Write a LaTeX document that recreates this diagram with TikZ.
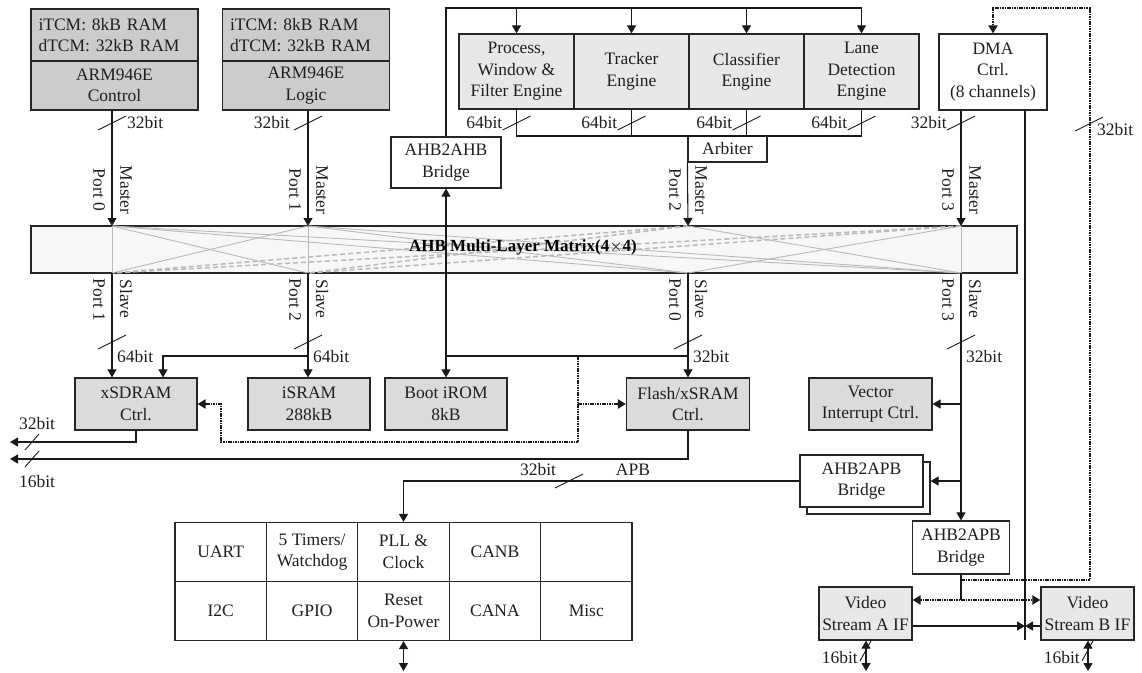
\documentclass[tikz,border=0pt]{standalone}
\usepackage{fontspec}
\setmainfont{Liberation Serif}
\usepackage{tikz}
\usetikzlibrary{arrows.meta,shadows}

\tikzset{
  vtick/.pic={\draw[bustick] (-14,7) -- (14,-7);},
  htick/.pic={\draw[bustick] (-7,8) -- (7,-8);},
  stick/.pic={\draw[bustick] (-6,11) -- (6,-11);},
}

\begin{document}
\begin{tikzpicture}[x=1pt, y=-1pt,
    txt/.style={font=\fontsize{17.5}{21.5}\selectfont, text=black!88},
    cpu/.style={txt, rectangle, draw=black!85, fill=gray!40, line width=1.2pt,
                inner sep=0pt, align=center, minimum width=167pt},
    eng/.style={txt, rectangle, draw=black!85, fill=gray!18, line width=1.2pt,
                inner sep=0pt, align=center, minimum width=115pt, minimum height=75pt},
    mem/.style={txt, rectangle, draw=black!85, fill=gray!28, line width=1.2pt,
                inner sep=0pt, align=center, minimum width=122pt, minimum height=52pt},
    wbox/.style={txt, rectangle, draw=black!85, fill=white, line width=1.2pt,
                inner sep=0pt, align=center},
    cell/.style={txt, rectangle, draw=black!85, line width=1.2pt, inner sep=0pt,
                align=center, minimum width=91.4pt, minimum height=59pt},
    port/.style={txt, rotate=-90, inner sep=1pt},
    bw/.style={txt, inner sep=1pt},
    mtxbox/.style={draw=black!85, fill=gray!6, line width=1.2pt, inner sep=0pt,
                minimum width=986pt, minimum height=47pt},
    xline/.style={gray!55, line width=0.9pt},
    xdash/.style={gray!55, line width=1.5pt, dash pattern=on 5pt off 3pt},
    wire/.style={line width=1.1pt, black!90},
    arr/.style={wire, -{Triangle[length=8pt, width=9pt]}},
    dblarr/.style={wire, {Triangle[length=8pt, width=9pt]}-{Triangle[length=8pt, width=9pt]}},
    dotwire/.style={line width=2.2pt, black!90, dash pattern=on 1.6pt off 0.8pt},
    dotarr/.style={dotwire, -{Triangle[length=8pt, width=9pt]}},
    dotdbl/.style={dotwire, {Triangle[length=8pt, width=9pt]}-{Triangle[length=8pt, width=9pt]}},
    bustick/.style={line width=0.9pt, black!90},
]
\useasboundingbox (0,0) rectangle (1142,672);

% --- CPUs ---
\node[cpu, align=left, text width=152pt, inner xsep=7.5pt, minimum height=52pt] (tcmA) at (114.5,35)
  {iTCM: 8kB RAM\\dTCM: 32kB RAM};
\node[cpu, minimum height=49pt] (armA) at (114.5,85.5) {ARM946E\\Control};
\node[cpu, align=left, text width=152pt, inner xsep=7.5pt, minimum height=52pt] (tcmB) at (306,35)
  {iTCM: 8kB RAM\\dTCM: 32kB RAM};
\node[cpu, minimum height=49pt] (armB) at (306,85.5) {ARM946E\\Logic};

% --- Engines ---
\node[eng] (pwf) at (516.5,71.5) {Process,\\Window \&\\Filter Engine};
\node[eng] (trk) at (631.5,71.5) {Tracker\\Engine};
\node[eng] (cls) at (746.5,71.5) {Classifier\\Engine};
\node[eng] (lane) at (861.5,71.5) {Lane\\Detection\\Engine};
\node[wbox, minimum width=79pt, minimum height=26pt] (arbiter) at (727.5,149) {Arbiter};
\node[wbox, minimum width=110pt, minimum height=51pt] (ahbbr) at (446,162.5) {AHB2AHB\\Bridge};
\node[wbox, minimum width=108pt, minimum height=76pt] (dma) at (993,72) {DMA\\Ctrl.\\(8 channels)};

% --- Matrix ---
\node[mtxbox] (matrix) at (524,249.5) {};
\coordinate (mp0) at (112,226);
\coordinate (mp1) at (308,226);
\coordinate (mp2) at (688,226);
\coordinate (mp3) at (961,226);
\coordinate (sp0) at (112,273);
\coordinate (sp1) at (308,273);
\coordinate (sp2) at (688,273);
\coordinate (sp3) at (961,273);
\foreach \m in {mp0,mp1}{\foreach \s in {sp0,sp1,sp2,sp3}{\draw[xline] (\m) -- (\s);}}
\foreach \m in {mp2,mp3}{\foreach \s in {sp0,sp1}{\draw[xdash] (\m) -- (\s);}}
\draw[xline] (mp2) -- (sp3);
\draw[xline] (mp3) -- (sp2);
\draw[xline] (mp3) -- (sp3);
\node[font=\fontsize{17}{21}\selectfont\bfseries, text=black] (mtxlabel) at (523,247)
  {AHB Multi-Layer Matrix(4$\times$4)};

% --- Slaves ---
\node[mem] (xsdram) at (136,404) {xSDRAM\\Ctrl.};
\node[mem] (isram) at (309,404) {iSRAM\\288kB};
\node[mem] (bootrom) at (446,404) {Boot iROM\\8kB};
\node[mem, minimum width=123pt] (flash) at (688,404) {Flash/xSRAM\\Ctrl.};
\node[mem, minimum width=123pt] (vic) at (870.5,404) {Vector\\Interrupt Ctrl.};
\node[wbox, minimum width=123pt, minimum height=52pt,
      copy shadow={shadow xshift=7pt, shadow yshift=-7pt, fill=white,
                   draw=black!85, line width=1.2pt}] (apbA) at (861.5,481) {AHB2APB\\Bridge};
\node[wbox, minimum width=97pt, minimum height=53pt] (apbB) at (961,547.5) {AHB2APB\\Bridge};
\node[mem, fill=gray!18, minimum width=93pt, minimum height=53pt] (videoA) at (865.5,613.5)
  {Video\\Stream A IF};
\node[mem, fill=gray!18, minimum width=93pt, minimum height=53pt] (videoB) at (1087.5,613.5)
  {Video\\Stream B IF};

% --- Peripherals ---
\node[cell] (uart) at (220.7,552) {UART};
\node[cell] (timers) at (312.1,552) {5 Timers/\\Watchdog};
\node[cell] (pll) at (403.5,552) {PLL \&\\Clock};
\node[cell] (canb) at (494.9,552) {CANB};
\node[cell] (spare) at (586.3,552) {};
\node[cell] (iic) at (220.7,611) {I2C};
\node[cell] (gpio) at (312.1,611) {GPIO};
\node[cell] (reset) at (403.5,611) {Reset\\On-Power};
\node[cell] (cana) at (494.9,611) {CANA};
\node[cell] (misc) at (586.3,611) {Misc};

% --- Masters to matrix ---
\draw[arr] (armA.south -| mp0) -- (mp0);
\draw[arr] (armB.south -| mp1) -- (mp1);
\draw[arr] (arbiter.south west) -- (mp2);
\draw[arr] (dma.south -| mp3) -- (mp3);
\pic at (112,123) {vtick};
\pic at (308,123) {vtick};
\pic at (961,123) {vtick};
\node[bw, anchor=west] (bwA) at (126,123) {32bit};
\node[bw, anchor=east] (bwB) at (291,123) {32bit};
\node[bw, anchor=east] (bwdma) at (948,123) {32bit};
\node[port] (pm0) at (99,190) {Port 0};
\node[port] (ma0) at (126,190) {Master};
\node[port] (pm1) at (295,190) {Port 1};
\node[port] (ma1) at (322,190) {Master};
\node[port] (pm2) at (675,190) {Port 2};
\node[port] (ma2) at (701,190) {Master};
\node[port] (pm3) at (948,190) {Port 3};
\node[port] (ma3) at (975,190) {Master};

% --- Engine buses ---
\coordinate (topbus) at (0,8);
\coordinate (engbus) at (0,136);
\draw[wire] (ahbbr.north) |- (lane.north |- topbus);
\foreach \e in {pwf,trk,cls,lane}{
  \draw[arr] (\e.north |- topbus) -- (\e.north);
  \pic at (\e.south |- 0,123) {vtick};
  \node[bw, anchor=east] at ([xshift=-13pt]\e.south |- 0,123) {64bit};
}
\draw[wire] (pwf.south) |- (lane.south |- engbus) -- (lane.south);
\draw[wire] (trk.south) -- (trk.south |- engbus);
\draw[wire] (cls.south) -- (cls.south |- engbus);

% --- Matrix to slaves ---
\coordinate (sbus1) at (308,356);
\coordinate (sbus2) at (688,356);
\draw[arr] (sp0) -- (sp0 |- xsdram.north);
\draw[arr] (sp1) -- (sp1 |- isram.north);
\draw[arr] (sbus1) -| ([xshift=27pt]xsdram.north);
\draw[arr] (sp2) -- (flash.north);
\draw[wire] (sbus2) -- (sbus2 -| bootrom.north);
\draw[dblarr] (ahbbr.south) -- (bootrom.north);
\draw[arr] (sp3) -- (apbB.north);
\draw[arr] (sp3 |- vic.east) -- (vic.east);
\draw[arr] (sp3 |- apbA.east) -- ([xshift=7pt]apbA.east);
\foreach \s in {sp0,sp1,sp2,sp3}{\pic at (\s |- 0,342) {vtick};}
\node[bw, anchor=west] (bws0) at (116,357) {64bit};
\node[bw, anchor=west] (bws1) at (312,357) {64bit};
\node[bw, anchor=west] (bws2) at (692,357) {32bit};
\node[bw, anchor=west] (bws3) at (965,357) {32bit};
\node[port] (ps1) at (99,300) {Port 1};
\node[port] (sl1) at (126,299) {Slave};
\node[port] (ps2) at (295,300) {Port 2};
\node[port] (sl2) at (322,299) {Slave};
\node[port] (ps0) at (675,300) {Port 0};
\node[port] (sl0) at (701,299) {Slave};
\node[port] (ps3) at (948,300) {Port 3};
\node[port] (sl3) at (975,299) {Slave};

% --- Dotted bypass ---
\coordinate (dotsplit) at (578,356);
\coordinate (dotcorner) at (221,442);
\draw[dotarr] (dotsplit) |- (dotcorner) |- (xsdram.east);
\draw[dotarr] (dotsplit |- flash.west) -- (flash.west);

% --- External memory bus ---
\coordinate (ext32) at (10,442);
\coordinate (ext16) at (10,459);
\draw[arr] (xsdram.south) |- (ext32);
\draw[arr] (flash.south) |- (ext16);
\pic at (32,442) {htick};
\pic at (32,459) {htick};
\node[bw] (bwx32) at (37,424) {32bit};
\node[bw] (bwx16) at (37,482) {16bit};

% --- APB ---
\draw[arr] (apbA.west) -| (pll.north);
\pic at (569,481) {vtick};
\node[bw] (bwapb) at (538,470) {32bit};
\node[bw] (apblabel) at (633,470) {APB};
\coordinate (rstio) at (403.5,671);
\draw[dblarr] (reset.south) -- (rstio);

% --- DMA and video ---
\coordinate (dmaline) at (1025,640);
\coordinate (vidlink) at (1025,626);
\coordinate (vidbus) at (0,600);
\coordinate (dmaret) at (1090,580);
\coordinate (dmatop) at (1090,8);
\draw[wire] (dmaline |- dma.south) -- (dmaline);
\draw[arr] (videoA.east |- vidlink) -- (vidlink);
\draw[arr] (videoB.west |- vidlink) -- (vidlink);
\draw[wire] (apbB.south) -- (apbB.south |- vidbus);
\draw[dotdbl] (videoA.east |- vidbus) -- (videoB.west |- vidbus);
\draw[dotarr] (apbB.south |- dmaret) -- (dmaret) -- (dmatop) -| (dma.north);
\pic at (1089,124) {vtick};
\node[bw, anchor=west] (bwloop) at (1096,130) {32bit};
\coordinate (vidAio) at (866,671);
\coordinate (vidBio) at (1088,671);
\draw[dblarr] (videoA.south -| vidAio) -- (vidAio);
\draw[dblarr] (videoB.south -| vidBio) -- (vidBio);
\pic at (866,650) {stick};
\pic at (1088,650) {stick};
\node[bw, anchor=east] (bwvA) at (859,658) {16bit};
\node[bw, anchor=east] (bwvB) at (1081,658) {16bit};

\end{tikzpicture}
\end{document}
